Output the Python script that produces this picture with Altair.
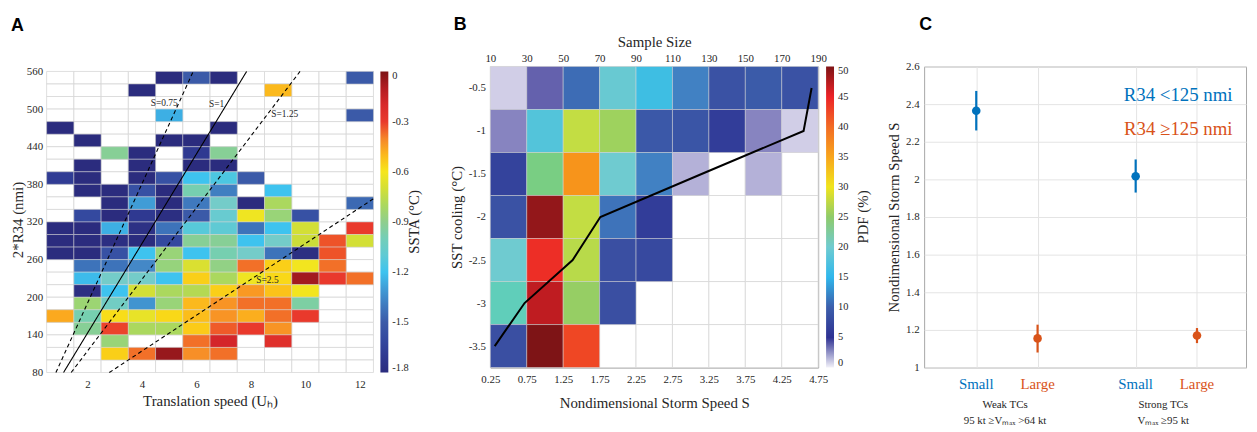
import altair as alt
import pandas as pd

FONT = "Liberation Serif"
TXT = "#262626"
GRID = "#d6d6d6"
N = None

# ---------------- Panel A data ----------------
speed_centres = [1, 2, 3, 4, 5, 6, 7, 8, 9, 10, 11, 12]
r34_lower = [540, 520, 500, 480, 460, 440, 420, 400, 380, 360, 340, 320,
             300, 280, 260, 240, 220, 200, 180, 160, 140, 120, 100, 80]
# SSTA (degC) per cell, top row (540-560 nmi) first, columns U_H = 1..12
ssta_grid = [
    [N, N, N, N, -1.8, -1.5, -1.8, N, N, N, N, -1.5],
    [N, N, N, -1.8, N, N, N, N, -0.5, N, N, N],
    [N, N, N, N, N, N, N, N, N, N, N, N],
    [N, N, N, N, -1.25, N, N, N, N, N, N, -1.5],
    [-1.8, N, N, N, N, N, -1.8, N, N, N, N, N],
    [N, -1.8, N, N, -1.8, -1.8, N, N, N, N, N, N],
    [N, N, -0.92, -1.8, N, -1.7, -0.92, N, N, N, N, N],
    [N, -1.8, N, -1.8, N, -1.8, -1.8, N, N, N, N, N],
    [-1.68, -1.8, N, -1.8, -1.55, -1.2, -1.15, -1.5, N, N, N, N],
    [N, -1.8, -1.8, -1.55, -1.8, -0.98, -1.38, N, -1.2, N, N, N],
    [N, N, -1.8, -1.3, -1.8, -1.4, -1.05, -1.8, -0.8, N, N, -1.45],
    [N, -1.6, -1.8, -1.7, -1.78, -1.5, -1.08, -0.62, -0.85, -1.55, N, N],
    [-1.8, -1.8, -1.25, -1.76, -1.42, -1.12, -1.1, -1.42, -1.2, -0.7, N, -0.3],
    [-1.8, -1.8, -1.78, -1.8, -1.6, -0.92, -0.92, -1.2, -1.05, -0.72, -0.33, -0.7],
    [-1.8, -1.8, -1.55, -1.2, -0.85, -1.2, -0.98, -1.05, -1.42, -1.78, -0.33, N],
    [N, -1.42, -1.42, -1.35, -0.86, -0.68, -0.88, -0.37, -0.55, -0.61, -0.37, N],
    [N, -1.22, -1.05, -1.05, -1.2, -0.55, -0.8, -0.62, -0.57, -0.07, -0.3, -0.37],
    [N, -1.78, -1.2, -0.7, -0.8, -0.78, -0.55, -0.44, -0.52, -0.61, N, N],
    [N, -0.84, -1.03, -1.32, -0.85, -0.5, -0.43, -0.37, -0.37, -0.95, N, N],
    [-0.47, -0.98, -0.58, -0.64, -0.57, -0.51, -0.43, -0.48, -0.37, -0.3, N, N],
    [N, -0.92, -0.31, -0.8, -0.8, -0.54, -0.34, -0.3, -0.43, N, N, N],
    [N, N, -0.85, N, N, -0.37, -0.18, N, -0.24, N, N, N],
    [N, N, -0.55, -0.37, -0.05, -0.42, -0.37, N, N, N, N, N],
    [N, N, N, N, N, N, N, N, N, N, N, N],
]
ssta_ticks = [-1.8, -1.5, -1.2, -0.9, -0.6, -0.3, 0]
ssta_stops = [-1.8, -1.65, -1.5, -1.35, -1.2, -1.05, -0.9, -0.75, -0.6, -0.5, -0.4, -0.3, -0.15, 0]
ssta_colors = ["#2b2c7e", "#31409a", "#3b5aa8", "#4488c7", "#3ec3ef", "#74ccc9", "#8fce8d",
               "#c3da40", "#f6e61c", "#fbb91d", "#f5842a", "#e9392c", "#cf2129", "#7d1416"]
s_values = [0.75, 1.0, 1.25, 2.5]
K_S1 = 71.4  # 2*R34 per unit U_H along S = 1
s_label_text = ["S=0.75", "S=1", "S=1.25", "S=2.5"]
s_label_u = [4.32, 6.46, 8.75, 8.2]
s_label_r = [509, 508, 492, 227]

# ---------------- Panel B data ----------------
s_bin_left = [0.25, 0.75, 1.25, 1.75, 2.25, 2.75, 3.25, 3.75, 4.25]
s_ticks = [0.25, 0.75, 1.25, 1.75, 2.25, 2.75, 3.25, 3.75, 4.25, 4.75]
cool_centres = [-0.5, -1.0, -1.5, -2.0, -2.5, -3.0, -3.5]
pdf_grid = [
    [0.8, 3.6, 11, 19.5, 16.5, 12.5, 8, 9.5, 8],
    [2.6, 18, 28, 26, 9, 8.5, 6, 2.6, 0.8],
    [6.5, 24, 36.5, 20, 12.5, 1.5, N, 1.5, N],
    [8, 49, 28, 11.5, 6, N, N, N, N],
    [20, 44.5, 27.5, 7.5, 7, N, N, N, N],
    [21.5, 47, 25.5, 7.5, N, N, N, N, N],
    [7.5, 50, 43, N, N, N, N, N, N],
]
sample_ticks = [10, 30, 50, 70, 90, 110, 130, 150, 170, 190]
pdf_ticks = [0, 5, 10, 15, 20, 25, 30, 35, 40, 45, 50]
pdf_stops = [0, 2.5, 5, 7.5, 10, 12.5, 15, 20, 25, 30, 35, 40, 45, 50]
pdf_colors = ["#f2f1f9", "#8b88c2", "#2e3192", "#3a4fa2", "#3c5eab", "#4181c3", "#2fb7ec",
              "#6fcbd0", "#8fcb6a", "#f0e41c", "#f8a51c", "#f26b24", "#ec2227", "#7e1416"]
mean_s = [0.31, 0.72, 1.38, 1.76, 3.15, 4.55, 4.66]
mean_cool = [-3.5, -3.0, -2.5, -2.0, -1.5, -1.0, -0.5]

# ---------------- Panel C data ----------------
c_size = ["Small", "Large", "Small", "Large"]
c_pos = [1, 2, 3.6, 4.6]
c_mean = [2.365, 1.155, 2.017, 1.17]
c_lo = [2.26, 1.08, 1.93, 1.13]
c_hi = [2.47, 1.228, 2.106, 1.21]
c_color = ["#0072BD", "#D95319", "#0072BD", "#D95319"]
grp_text = ["Weak TCs\n95 kt ≥Vₘₐₓ >64 kt", "Strong TCs\nVₘₐₓ ≥95 kt"]
grp_pos = [1.47, 4.05]
r34_text = ["R34 <125 nmi", "R34 ≥125 nmi"]
r34_y = [2.45, 2.27]
r34_color = ["#0072BD", "#D95319"]
c_yticks = [1.0, 1.2, 1.4, 1.6, 1.8, 2.0, 2.2, 2.4, 2.6]


def ax(**kw):
    base = dict(labelFont=FONT, labelFontSize=11, labelColor=TXT, titleFont=FONT,
                titleFontSize=15, titleFontWeight="normal", titleColor=TXT,
                ticks=False, domain=False, grid=False, labelOverlap=False, labelFlush=False)
    if "values" in kw:
        base["tickCount"] = len(kw["values"])
    base.update(kw)
    return alt.Axis(**base)


def letter(t, dx, off):
    return alt.TitleParams(t, anchor="start", frame="group", font="Liberation Sans",
                           fontSize=18, fontWeight="bold", color="black", dx=dx, offset=off)


def bar_title(text, px, py):
    return alt.Chart(pd.DataFrame(dict(t=[text]))).mark_text(
        font=FONT, fontSize=15, color=TXT, angle=270, baseline="middle", align="center").encode(
        x=alt.value(px), y=alt.value(py), text="t:N")


def bar_legend(ticks, lx, ly, expr=None):
    kw = dict(title=None, orient="none", legendX=lx, legendY=ly, direction="vertical",
              gradientLength=304, gradientThickness=8, gradientStrokeWidth=0, values=ticks,
              labelFont=FONT, labelFontSize=10.5, labelColor=TXT, labelOffset=4)
    if expr:
        kw["labelExpr"] = expr
    return alt.Legend(**kw)


# ================= Panel A =================
A_W, A_H = 330, 309
A_TOP = 80 + 480 * A_H / 304
cellsA, bgA_rows = [], []
for r, vals in zip(r34_lower, ssta_grid):
    for c, v in zip(speed_centres, vals):
        bgA_rows.append(dict(x=c - 0.5, x2=c + 0.5, y=r, y2=r + 20))
        if v is not None:
            cellsA.append(dict(x=c - 0.5, x2=c + 0.5, y=r, y2=r + 20, v=v))

lineA_rows = []
for s in s_values:
    k = K_S1 / s
    x0 = max(0.5, 80 / k)
    x1 = min(12.5, 560 / k)
    for xx in (x0, x1):
        lineA_rows.append(dict(S=s, x=xx, y=k * xx))

xA = alt.X("x:Q", scale=alt.Scale(domain=[0.5, 12.5], nice=False, zero=False),
           axis=ax(values=[2, 4, 6, 8, 10, 12], title="Translation speed (Uₕ)",
                   labelPadding=6, titlePadding=4))
yA = alt.Y("y:Q", scale=alt.Scale(domain=[80, A_TOP], nice=False, zero=False),
           axis=ax(values=list(range(80, 561, 60)), title="2*R34 (nmi)",
                   labelPadding=4, titlePadding=1))

bgA = alt.Chart(pd.DataFrame(bgA_rows)).mark_rect(fill="white", stroke=GRID, strokeWidth=0.8).encode(
    x=xA, x2="x2:Q", y=yA, y2="y2:Q")
cellA = alt.Chart(pd.DataFrame(cellsA)).mark_rect(stroke=GRID, strokeWidth=0.5).encode(
    x="x:Q", x2="x2:Q", y="y:Q", y2="y2:Q",
    color=alt.Color("v:Q", scale=alt.Scale(domain=ssta_stops, range=ssta_colors),
                    legend=bar_legend(ssta_ticks, A_W + 7, 5,
                                      "datum.value == 0 ? '0' : '-' + format(abs(datum.value), '.1f')")))
lineA = alt.Chart(pd.DataFrame(lineA_rows)).mark_line(color="black", strokeWidth=1.1).encode(
    x="x:Q", y="y:Q", detail="S:N",
    strokeDash=alt.condition("datum.S == 1", alt.value([1, 0]), alt.value([4, 3])))
textA = alt.Chart(pd.DataFrame(dict(t=s_label_text, x=s_label_u, y=s_label_r))).mark_text(
    align="left", baseline="middle", font=FONT, fontSize=9.5, color=TXT).encode(
    x="x:Q", y="y:Q", text="t:N")

panelA = alt.layer(bgA, cellA, lineA, textA, bar_title("SSTA (°C)", 371, 157)).properties(
    width=A_W, height=A_H, title=letter("A", -36, 31))

# ================= Panel B =================
B_W, B_H = 331, 304
cellsB, bgB_rows = [], []
for yc, vals in zip(cool_centres, pdf_grid):
    for xl, v in zip(s_bin_left, vals):
        bgB_rows.append(dict(x=xl, x2=xl + 0.5, y=yc - 0.25, y2=yc + 0.25))
        if v is not None:
            cellsB.append(dict(x=xl, x2=xl + 0.5, y=yc - 0.25, y2=yc + 0.25, v=v))

xB = alt.X("x:Q", scale=alt.Scale(domain=[0.25, 4.75], nice=False, zero=False),
           axis=ax(values=s_ticks, format=".2f", title="Nondimensional Storm Speed S",
                   labelPadding=6, titlePadding=11))
yB = alt.Y("y:Q", scale=alt.Scale(domain=[-3.75, -0.25], nice=False, zero=False),
           axis=ax(values=cool_centres, labelExpr="'-' + format(abs(datum.value), '~g')",
                   title="SST cooling (°C)", labelPadding=5, titlePadding=4))
bgB = alt.Chart(pd.DataFrame(bgB_rows)).mark_rect(fill="white", stroke=GRID, strokeWidth=0.8).encode(
    x=xB, x2="x2:Q", y=yB, y2="y2:Q")
cellB = alt.Chart(pd.DataFrame(cellsB)).mark_rect(stroke=GRID, strokeWidth=0.5).encode(
    x="x:Q", x2="x2:Q", y="y:Q", y2="y2:Q",
    color=alt.Color("v:Q", scale=alt.Scale(domain=pdf_stops, range=pdf_colors),
                    legend=bar_legend(pdf_ticks, B_W + 8, 0)))
lineB = alt.Chart(pd.DataFrame(dict(x=mean_s, y=mean_cool))).mark_line(color="black", strokeWidth=2).encode(
    x="x:Q", y="y:Q", order="y:Q")
titleB = bar_title("PDF (%)", 376, 152)
topB = alt.Chart(pd.DataFrame(dict(n=sample_ticks))).mark_point(opacity=0).encode(
    x=alt.X("n:Q", scale=alt.Scale(domain=[10, 190], nice=False, zero=False),
            axis=ax(orient="top", values=sample_ticks, title="Sample Size",
                    labelPadding=3, titlePadding=3)))
panelB = alt.layer(alt.layer(bgB, cellB, lineB, titleB), topB).resolve_scale(x="independent").properties(
    width=B_W, height=B_H, title=letter("B", -37, 1),
    view=alt.ViewBackground(stroke="#9a9a9a"))

# ================= Panel C =================
C_W, C_H = 325, 304
dfC = pd.DataFrame(dict(pos=c_pos, mean=c_mean, lo=c_lo, hi=c_hi, size=c_size, col=c_color))
c_xscale = alt.Scale(domain=[0.15, 5.4], nice=False, zero=False)
c_yscale = alt.Scale(domain=[1, 2.6], nice=False, zero=False)
c_yaxis = ax(values=c_yticks, format="~g", grid=True,
             gridColor="#e4e4e4", title="Nondimensional Storm Speed S",
             labelPadding=5, titlePadding=4)
xC = alt.X("pos:Q", scale=c_xscale,
           axis=ax(values=c_pos, labels=False, grid=True, gridColor="#e4e4e4", title=None))
ruleC = alt.Chart(dfC).mark_rule(strokeWidth=2.2).encode(
    x=xC, y=alt.Y("lo:Q", scale=c_yscale, axis=c_yaxis), y2="hi:Q",
    color=alt.Color("col:N", scale=None))
ptC = alt.Chart(dfC).mark_circle(size=75, opacity=1).encode(
    x="pos:Q", y=alt.Y("mean:Q", axis=c_yaxis), color=alt.Color("col:N", scale=None))
catC = alt.Chart(dfC).mark_text(font=FONT, fontSize=15, baseline="middle").encode(
    x="pos:Q", y=alt.value(C_H + 17), text="size:N", color=alt.Color("col:N", scale=None))
grpC = alt.Chart(pd.DataFrame(dict(t=grp_text, pos=grp_pos))).mark_text(
    font=FONT, fontSize=11, baseline="middle", lineBreak="\n", lineHeight=16, color=TXT).encode(
    x="pos:Q", y=alt.value(C_H + 38), text="t:N")
r34C = alt.Chart(pd.DataFrame(dict(t=r34_text, y=r34_y, col=r34_color, x=[5.18, 5.18]))).mark_text(
    font=FONT, fontSize=19, align="right", baseline="middle").encode(
    x="x:Q", y="y:Q", text="t:N", color=alt.Color("col:N", scale=None))
panelC = alt.layer(ruleC, ptC, catC, grpC, r34C).properties(
    width=C_W, height=C_H, title=letter("C", -5, 27),
    view=alt.ViewBackground(stroke="#a6a6a6"))

inner = alt.hconcat(panelB, panelC, spacing=107, bounds="flush").resolve_scale(color="independent")
chart = alt.hconcat(panelA, inner, spacing=118, bounds="flush").resolve_scale(
    color="independent").properties(
    padding={"left": 2, "top": 5, "right": 2, "bottom": 2}
).configure_view(stroke=None).configure_axis(labelOverlap=False, labelFlush=False)

chart.save("out.html", embed_options={"renderer": "svg", "actions": False})
